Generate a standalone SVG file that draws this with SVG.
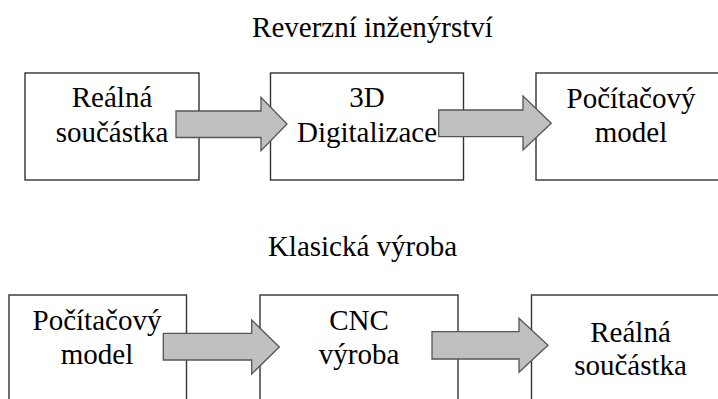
<svg xmlns="http://www.w3.org/2000/svg" width="718" height="399" viewBox="0 0 718 399">
<rect width="718" height="399" fill="#fff"/>
<text x="372.5" y="37" font-family="Liberation Serif" font-size="29" text-anchor="middle">Reverzní inženýrství</text>
<text x="362.5" y="256" font-family="Liberation Serif" font-size="29" text-anchor="middle">Klasická výroba</text>
<g fill="#fff" stroke="#333" stroke-width="1.4">
<g id="n1"><rect x="25" y="73" width="174" height="107"/></g>
<g id="n2"><rect x="270.5" y="73" width="193" height="107"/></g>
<g id="n3"><rect x="536" y="73" width="200" height="107"/></g>
<g id="n4"><rect x="9" y="295" width="177.5" height="120"/></g>
<g id="n5"><rect x="260" y="295" width="198" height="120"/></g>
<g id="n6"><rect x="531.5" y="295" width="200" height="120"/></g>
</g>
<g id="connectors" fill="#c0c0c0" stroke="#555" stroke-width="1.3">
<path d="M176,111 H261 V97.3 L287,124 L261,150.7 V137.5 H176 Z"/>
<path d="M438.7,110 H523 V96 L551.3,123.3 L523,150 V136.7 H438.7 Z"/>
<path d="M163.3,333.3 H251.7 V320 L279.3,347 L251.7,374 V360 H163.3 Z"/>
<path d="M432,331.7 H519 V318.3 L548,345.3 L519,372.3 V359 H432 Z"/>
</g>
<text x="112" y="107" font-family="Liberation Serif" font-size="29" text-anchor="middle">Reálná</text>
<text x="112" y="142" font-family="Liberation Serif" font-size="29" text-anchor="middle">součástka</text>
<text x="367" y="107" font-family="Liberation Serif" font-size="29" text-anchor="middle">3D</text>
<text x="367" y="142" font-family="Liberation Serif" font-size="29" text-anchor="middle">Digitalizace</text>
<text x="631" y="108" font-family="Liberation Serif" font-size="29" text-anchor="middle">Počítačový</text>
<text x="631" y="142" font-family="Liberation Serif" font-size="29" text-anchor="middle">model</text>
<text x="97" y="330" font-family="Liberation Serif" font-size="29" text-anchor="middle">Počítačový</text>
<text x="97" y="363.5" font-family="Liberation Serif" font-size="29" text-anchor="middle">model</text>
<text x="359" y="330" font-family="Liberation Serif" font-size="29" text-anchor="middle">CNC</text>
<text x="359" y="363.5" font-family="Liberation Serif" font-size="29" text-anchor="middle">výroba</text>
<text x="630.5" y="342" font-family="Liberation Serif" font-size="29" text-anchor="middle">Reálná</text>
<text x="630.5" y="375" font-family="Liberation Serif" font-size="29" text-anchor="middle">součástka</text>
</svg>
